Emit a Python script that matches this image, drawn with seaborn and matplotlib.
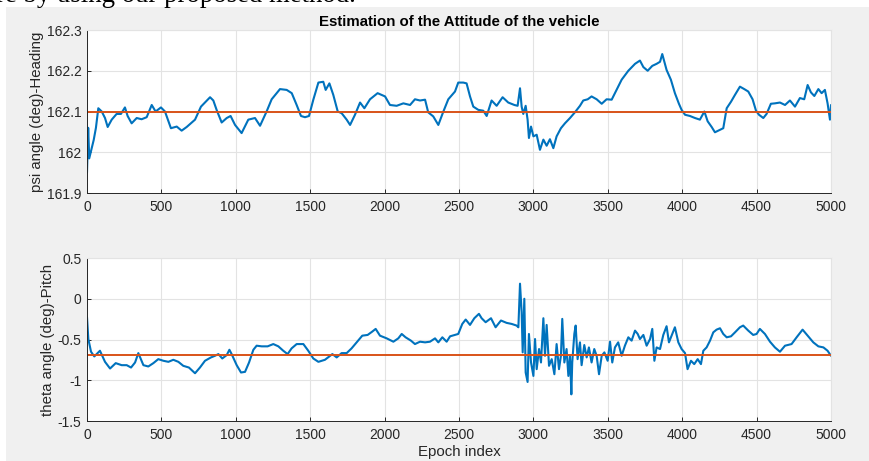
import numpy as np
import pandas as pd
import seaborn as sns
import matplotlib.pyplot as plt
from matplotlib.patches import Rectangle

# ---------------------------------------------------------------------------
# Data (epoch index -> angle in degrees)
# ---------------------------------------------------------------------------
psi_epoch = [0, 8, 15, 25, 45, 60, 76, 99, 121, 139, 166, 199, 228, 255, 273, 300,
             334, 367, 401, 435, 461, 497, 524, 564, 603, 636, 670, 726, 766, 827,
             849, 871, 905, 939, 965, 995, 1039, 1084, 1129, 1163, 1207, 1241, 1297,
             1342, 1376, 1409, 1438, 1465, 1492, 1521, 1555, 1588, 1604, 1629, 1655,
             1685, 1711, 1745, 1768, 1801, 1835, 1864, 1902, 1953, 2003, 2036, 2081,
             2126, 2171, 2204, 2238, 2272, 2293, 2327, 2361, 2395, 2428, 2473, 2495,
             2529, 2551, 2574, 2596, 2630, 2663, 2686, 2719, 2753, 2793, 2831, 2872,
             2894, 2910, 2921, 2932, 2948, 2961, 2970, 2984, 3000, 3022, 3044, 3067,
             3089, 3111, 3134, 3156, 3185, 3212, 3246, 3279, 3313, 3335, 3365, 3391,
             3425, 3459, 3492, 3526, 3559, 3593, 3638, 3683, 3716, 3739, 3768, 3799,
             3828, 3851, 3866, 3895, 3924, 3951, 3978, 3996, 4019, 4052, 4086, 4119,
             4149, 4171, 4198, 4220, 4254, 4276, 4299, 4328, 4355, 4388, 4417, 4444,
             4473, 4496, 4516, 4545, 4567, 4596, 4623, 4657, 4691, 4724, 4758, 4791,
             4820, 4843, 4865, 4888, 4915, 4937, 4959, 4977, 4993, 5000]
psi_deg = [161.95, 162.06, 161.985, 162.0, 162.03, 162.06, 162.108, 162.1, 162.084,
           162.062, 162.08, 162.094, 162.094, 162.11, 162.089, 162.071, 162.084,
           162.081, 162.086, 162.116, 162.1, 162.11, 162.1, 162.059, 162.063, 162.053,
           162.062, 162.08, 162.112, 162.135, 162.127, 162.104, 162.073, 162.084,
           162.089, 162.067, 162.047, 162.08, 162.084, 162.065, 162.1, 162.13, 162.155,
           162.153, 162.145, 162.116, 162.089, 162.086, 162.089, 162.129, 162.171,
           162.173, 162.153, 162.169, 162.141, 162.1, 162.096, 162.08, 162.067,
           162.092, 162.122, 162.108, 162.13, 162.145, 162.137, 162.116, 162.114,
           162.12, 162.116, 162.13, 162.127, 162.129, 162.098, 162.088, 162.067,
           162.1, 162.13, 162.149, 162.171, 162.171, 162.169, 162.137, 162.112,
           162.104, 162.102, 162.089, 162.127, 162.114, 162.135, 162.122, 162.116,
           162.114, 162.157, 162.112, 162.094, 162.114, 162.08, 162.035, 162.063,
           162.039, 162.043, 162.006, 162.031, 162.016, 162.032, 162.01, 162.039,
           162.059, 162.071, 162.084, 162.098, 162.114, 162.127, 162.13, 162.137,
           162.13, 162.119, 162.13, 162.129, 162.153, 162.178, 162.2, 162.217,
           162.225, 162.209, 162.2, 162.212, 162.217, 162.222, 162.241, 162.202,
           162.178, 162.145, 162.119, 162.104, 162.092, 162.089, 162.084, 162.08,
           162.1, 162.076, 162.062, 162.049, 162.055, 162.059, 162.108, 162.124,
           162.141, 162.161, 162.155, 162.149, 162.13, 162.102, 162.092, 162.084,
           162.094, 162.119, 162.12, 162.122, 162.116, 162.127, 162.112, 162.133,
           162.13, 162.165, 162.147, 162.138, 162.155, 162.145, 162.153, 162.12,
           162.08, 162.116]

theta_epoch = [0, 9, 27, 49, 87, 121, 155, 193, 233, 267, 296, 323, 345, 379, 412, 446,
               479, 513, 547, 580, 614, 647, 685, 726, 759, 793, 833, 860, 883, 909,
               939, 957, 972, 1006, 1035, 1062, 1089, 1118, 1140, 1174, 1214, 1252,
               1286, 1319, 1348, 1375, 1409, 1454, 1487, 1521, 1555, 1599, 1649, 1678,
               1711, 1745, 1778, 1812, 1850, 1886, 1917, 1940, 1969, 2014, 2059, 2092,
               2115, 2141, 2177, 2204, 2238, 2272, 2305, 2339, 2361, 2388, 2417, 2440,
               2473, 2495, 2522, 2545, 2574, 2603, 2634, 2652, 2679, 2715, 2746, 2782,
               2820, 2854, 2887, 2899, 2910, 2921, 2928, 2939, 2948, 2961, 2970, 2984,
               3000, 3011, 3022, 3038, 3051, 3067, 3078, 3089, 3105, 3123, 3141, 3156,
               3172, 3185, 3194, 3208, 3223, 3235, 3246, 3255, 3261, 3275, 3284, 3297,
               3313, 3324, 3342, 3358, 3373, 3391, 3409, 3425, 3441, 3459, 3477, 3499,
               3515, 3530, 3548, 3570, 3593, 3615, 3638, 3660, 3683, 3701, 3716, 3739,
               3761, 3784, 3799, 3813, 3828, 3851, 3873, 3895, 3911, 3929, 3951, 3974,
               3996, 4019, 4036, 4059, 4081, 4104, 4126, 4142, 4164, 4187, 4209, 4231,
               4254, 4276, 4299, 4328, 4355, 4388, 4410, 4444, 4477, 4500, 4522, 4556,
               4590, 4623, 4657, 4691, 4735, 4769, 4809, 4843, 4881, 4915, 4949, 4977,
               5000]
theta_deg = [-0.226, -0.494, -0.65, -0.708, -0.638, -0.774, -0.856, -0.79, -0.815,
             -0.815, -0.844, -0.782, -0.667, -0.815, -0.831, -0.79, -0.741, -0.761,
             -0.774, -0.749, -0.774, -0.823, -0.844, -0.914, -0.844, -0.761, -0.72,
             -0.7, -0.679, -0.733, -0.691, -0.626, -0.679, -0.815, -0.905, -0.897,
             -0.782, -0.626, -0.576, -0.584, -0.584, -0.556, -0.584, -0.638, -0.679,
             -0.609, -0.556, -0.556, -0.638, -0.733, -0.774, -0.749, -0.679, -0.72,
             -0.667, -0.667, -0.609, -0.535, -0.453, -0.444, -0.403, -0.37, -0.453,
             -0.486, -0.527, -0.486, -0.432, -0.473, -0.514, -0.556, -0.527, -0.535,
             -0.527, -0.486, -0.535, -0.473, -0.527, -0.461, -0.444, -0.432, -0.309,
             -0.255, -0.321, -0.239, -0.185, -0.239, -0.288, -0.239, -0.35, -0.267,
             -0.296, -0.309, -0.329, -0.35, 0.185, -0.165, -0.658, 0.0, -0.905, -1.021,
             -0.432, -0.782, -0.947, -0.494, -0.864, -0.617, -0.782, -0.239, -0.7,
             -0.321, -0.823, -0.741, -0.926, -0.556, -0.864, -0.7, -0.247, -0.782,
             -0.617, -0.947, -0.7, -1.173, -0.782, -0.432, -0.329, -0.741, -0.535,
             -0.815, -0.568, -0.72, -0.597, -0.782, -0.617, -0.7, -0.926, -0.7, -0.658,
             -0.761, -0.527, -0.782, -0.597, -0.535, -0.7, -0.576, -0.473, -0.514,
             -0.391, -0.432, -0.494, -0.444, -0.576, -0.494, -0.37, -0.761, -0.597,
             -0.617, -0.444, -0.337, -0.535, -0.453, -0.35, -0.535, -0.617, -0.667,
             -0.864, -0.761, -0.802, -0.741, -0.802, -0.638, -0.597, -0.514, -0.412,
             -0.379, -0.362, -0.432, -0.473, -0.461, -0.412, -0.35, -0.329, -0.391,
             -0.444, -0.432, -0.37, -0.432, -0.527, -0.597, -0.65, -0.576, -0.556,
             -0.473, -0.379, -0.453, -0.535, -0.584, -0.597, -0.638, -0.7]

ref_epoch = [0, 5000]
psi_ref = [162.1, 162.1]
theta_ref = [-0.69, -0.69]

x_ticks = list(range(0, 5001, 500))
psi_ticks = [161.9, 162.0, 162.1, 162.2, 162.3]
psi_tick_labels = ["161.9", "162", "162.1", "162.2", "162.3"]
theta_ticks = [-1.5, -1.0, -0.5, 0.0, 0.5]
theta_tick_labels = ["-1.5", "-1", "-0.5", "0", "0.5"]

# ---------------------------------------------------------------------------
# Figure
# ---------------------------------------------------------------------------
sns.set_style("whitegrid")
plt.rcParams['font.family'] = ['Liberation Sans', 'DejaVu Sans']

W, H = 870, 461
fig = plt.figure(figsize=(W / 100, H / 100), dpi=100, facecolor='white')

# grey MATLAB figure panel, with a sliver of the surrounding page on top/left
fig.patches.append(Rectangle((6 / W, 0), 1, 1 - 7 / H, transform=fig.transFigure,
                             facecolor='#f0f0f0', edgecolor='none', zorder=-10))
fig.text(-4 / W, 1 - 2 / H, "re by using our proposed method.", family='Liberation Serif',
         fontsize=19.3, va='baseline', ha='left', color='black', zorder=-5)

ax1 = fig.add_axes([87 / W, 1 - 193 / H, 744 / W, 163 / H])
ax2 = fig.add_axes([87 / W, 1 - 421 / H, 744 / W, 163 / H])

blue = '#0072BD'
orange = '#D95319'
txt = '#262626'
grid_c = '#e3e3e3'

panels = [
    (ax1, psi_epoch, psi_deg, psi_ref, psi_ticks, psi_tick_labels, "psi angle (deg)-Heading"),
    (ax2, theta_epoch, theta_deg, theta_ref, theta_ticks, theta_tick_labels, "theta angle (deg)-Pitch"),
]

for ax, xs, ys, ref, yt, ytl, ylab in panels:
    ax.set_facecolor('white')
    sns.lineplot(x=xs, y=ys, ax=ax, color=blue, linewidth=1.5, estimator=None, sort=False)
    sns.lineplot(x=ref_epoch, y=ref, ax=ax, color=orange, linewidth=1.4, estimator=None)
    ax.set_xlim(0, 5000)
    ax.set_ylim(yt[0], yt[-1])
    ax.set_xticks(x_ticks)
    ax.set_xticklabels([str(t) for t in x_ticks])
    ax.set_yticks(yt)
    ax.set_yticklabels(ytl)
    ax.grid(True, color=grid_c, linewidth=0.8)
    for s in ['left', 'bottom']:
        ax.spines[s].set_color(txt)
        ax.spines[s].set_linewidth(0.7)
    for s in ['top', 'right']:
        ax.spines[s].set_color(grid_c)
        ax.spines[s].set_linewidth(0.8)
    ax.tick_params(direction='in', length=3, width=0.7, color=txt, labelcolor=txt,
                   labelsize=10, pad=5, left=True, bottom=True)
    ax.tick_params(axis='y', pad=4)
    ax.set_ylabel(ylab, fontsize=10.8, color=txt, labelpad=2)
    ax.set_xlabel("")

ax1.set_title("Estimation of the Attitude of the vehicle", fontsize=10.8,
              fontweight='bold', color='black', pad=3)
ax2.set_xlabel("Epoch index", fontsize=10.8, color=txt, labelpad=2)

plt.savefig('out.png', dpi=100, facecolor=fig.get_facecolor())
